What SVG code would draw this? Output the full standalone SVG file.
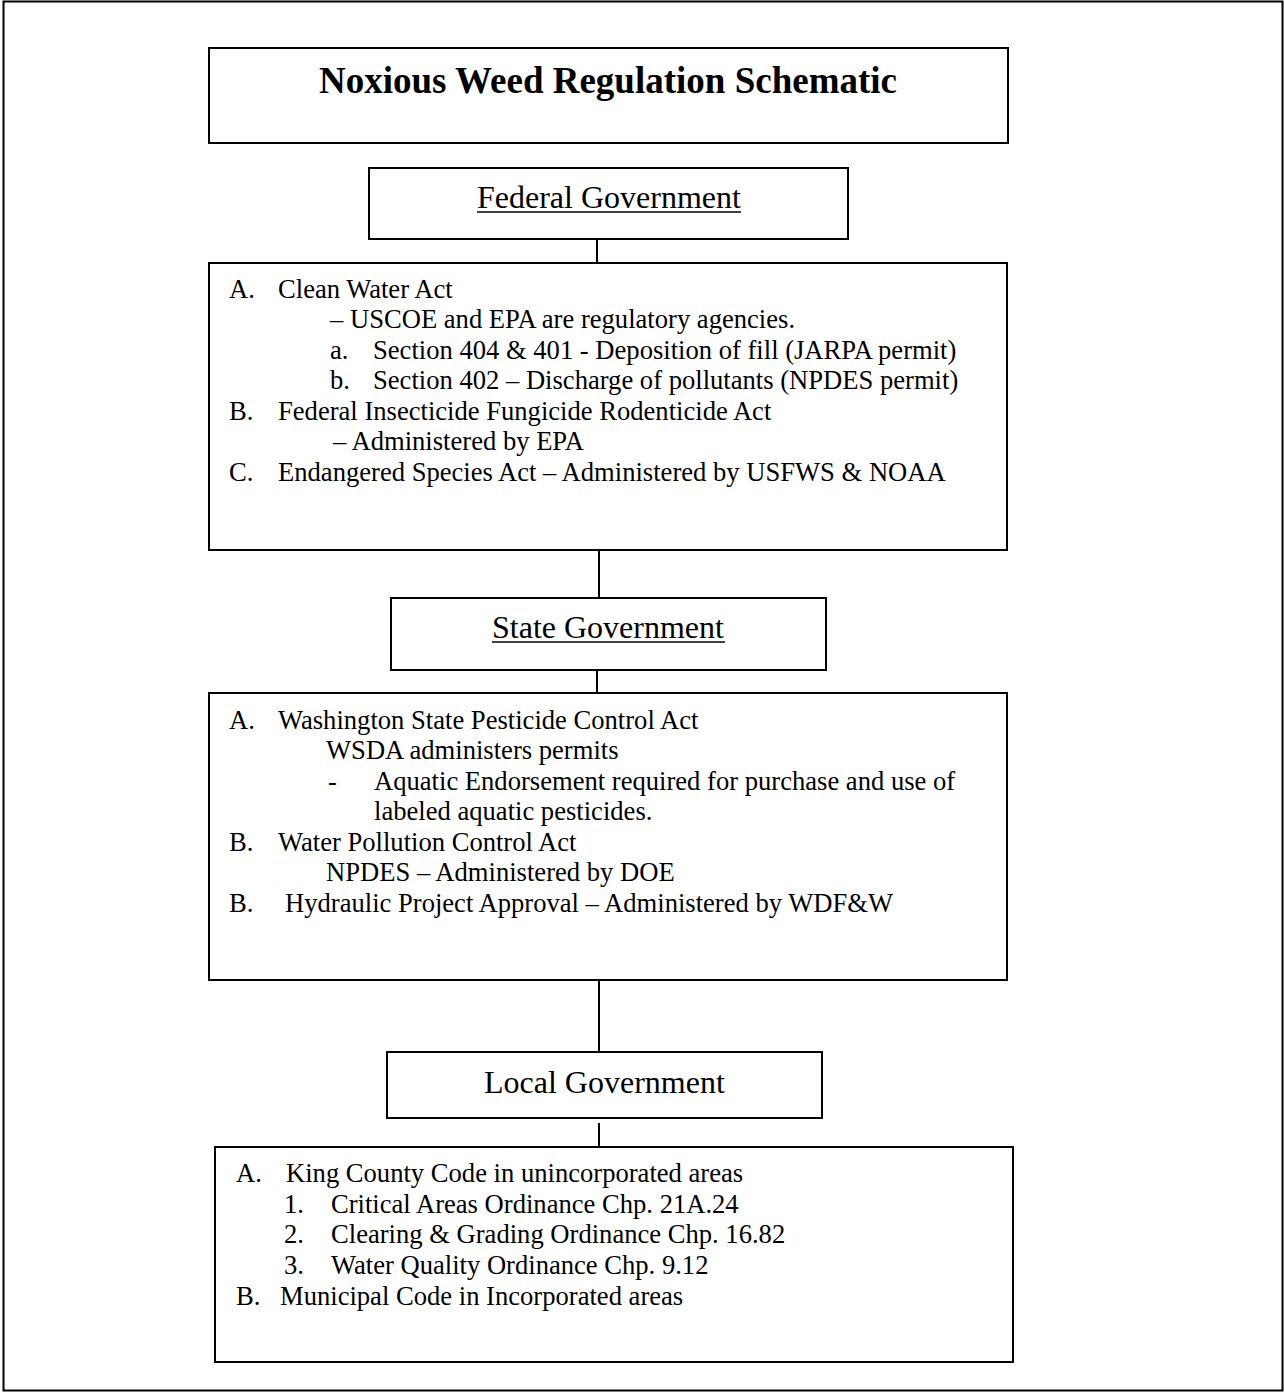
<svg xmlns="http://www.w3.org/2000/svg" width="1284" height="1392" viewBox="0 0 1284 1392">
<style>
.box{fill:#fff;stroke:#000;stroke-width:2}
.frame{fill:none;stroke:#000;stroke-width:2}
.conn{stroke:#000;stroke-width:2;fill:none}
text{font-family:"Liberation Serif","Times New Roman",serif;fill:#000}
.t{font-size:26.6px}
.h{font-size:32px}
.title{font-size:37px;font-weight:bold}
.ul{stroke:#000;stroke-width:1.6}
</style>
<rect width="1284" height="1392" fill="#fff"/>
<rect class="frame" x="3.5" y="1.5" width="1279" height="1389"/>

<g id="connectors">
<line class="conn" x1="597" y1="240" x2="597" y2="263"/>
<line class="conn" x1="599" y1="550" x2="599" y2="598"/>
<line class="conn" x1="597" y1="670" x2="597" y2="693"/>
<line class="conn" x1="599" y1="980" x2="599" y2="1052"/>
<line class="conn" x1="599" y1="1123" x2="599" y2="1147"/>
</g>

<g id="title">
<rect class="box" x="209" y="48" width="799" height="95"/>
<text class="title" x="608" y="93" text-anchor="middle">Noxious Weed Regulation Schematic</text>
</g>

<g id="federal">
<rect class="box" x="369" y="168" width="479" height="71"/>
<text class="h" x="477" y="208">Federal Government</text>
<line class="ul" x1="477" y1="212" x2="741" y2="212"/>
</g>

<g id="federal-acts">
<rect class="box" x="209" y="263" width="798" height="287"/>
<text class="t" x="229" y="297.5">A.</text>
<text class="t" x="278" y="297.5">Clean Water Act</text>
<text class="t" x="330" y="328">–  USCOE and EPA are regulatory agencies.</text>
<text class="t" x="330" y="358.5">a.</text>
<text class="t" x="373" y="358.5">Section 404 &amp; 401 - Deposition of fill (JARPA permit)</text>
<text class="t" x="330" y="389">b.</text>
<text class="t" x="373" y="389">Section 402 – Discharge of pollutants (NPDES permit)</text>
<text class="t" x="229" y="419.5">B.</text>
<text class="t" x="278" y="419.5">Federal Insecticide Fungicide Rodenticide Act</text>
<text class="t" x="333" y="450">– Administered by EPA</text>
<text class="t" x="229" y="480.5">C.</text>
<text class="t" x="278" y="480.5">Endangered Species Act – Administered by USFWS &amp; NOAA</text>
</g>

<g id="state">
<rect class="box" x="391" y="598" width="435" height="72"/>
<text class="h" x="492" y="638">State Government</text>
<line class="ul" x1="492" y1="642" x2="725" y2="642"/>
</g>

<g id="state-acts">
<rect class="box" x="209" y="693" width="798" height="287"/>
<text class="t" x="229" y="728.5">A.</text>
<text class="t" x="278" y="728.5">Washington State Pesticide Control Act</text>
<text class="t" x="326" y="759">WSDA administers permits</text>
<text class="t" x="328" y="789.5">-</text>
<text class="t" x="374" y="789.5">Aquatic Endorsement required for purchase and use of</text>
<text class="t" x="374" y="820">labeled aquatic pesticides.</text>
<text class="t" x="229" y="850.5">B.</text>
<text class="t" x="278" y="850.5">Water Pollution Control Act</text>
<text class="t" x="326" y="881">NPDES – Administered by DOE</text>
<text class="t" x="229" y="911.5">B.</text>
<text class="t" x="285" y="911.5">Hydraulic Project Approval – Administered by WDF&amp;W</text>
</g>

<g id="local">
<rect class="box" x="387" y="1052" width="435" height="66"/>
<text class="h" x="484" y="1093">Local Government</text>
</g>

<g id="local-codes">
<rect class="box" x="215" y="1147" width="798" height="215"/>
<text class="t" x="236" y="1182">A.</text>
<text class="t" x="286" y="1182">King County Code in unincorporated areas</text>
<text class="t" x="284" y="1212.5">1.</text>
<text class="t" x="331" y="1212.5">Critical Areas Ordinance Chp. 21A.24</text>
<text class="t" x="284" y="1243">2.</text>
<text class="t" x="331" y="1243">Clearing &amp; Grading Ordinance Chp. 16.82</text>
<text class="t" x="284" y="1274">3.</text>
<text class="t" x="331" y="1274">Water Quality Ordinance Chp. 9.12</text>
<text class="t" x="236" y="1304.5">B.</text>
<text class="t" x="280" y="1304.5">Municipal Code in Incorporated areas</text>
</g>
</svg>
